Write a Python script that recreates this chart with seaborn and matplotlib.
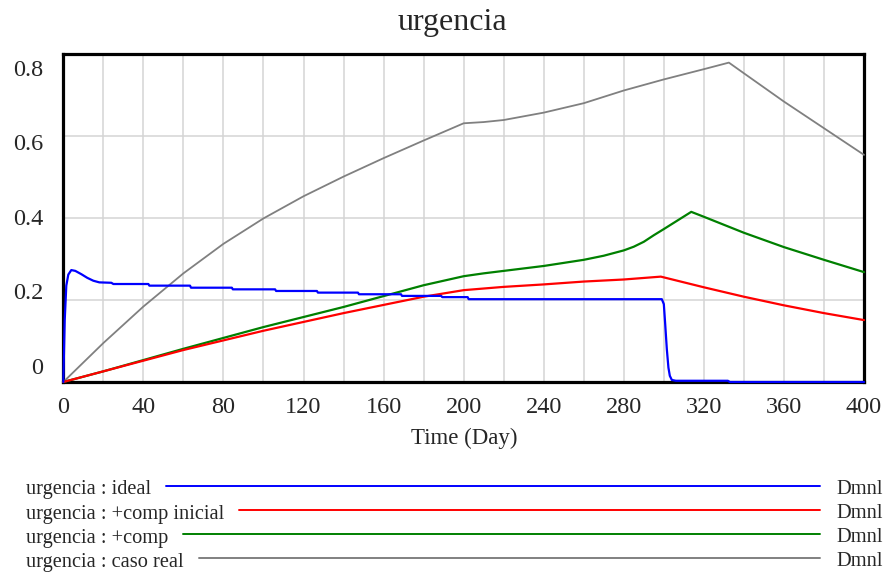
import matplotlib
matplotlib.use("Agg")
import matplotlib.pyplot as plt
import numpy as np
import pandas as pd
import seaborn as sns

# ---- data -------------------------------------------------------------
ideal_day = [0, 0.7, 1.5, 2.5, 4, 6, 9, 12, 15, 18, 24, 25, 42.5, 43, 63.3, 63.8,
             84.2, 84.7, 105.8, 106.3, 126.7, 127.2, 147.2, 147.7, 168.7, 169.2,
             188.8, 189.3, 202, 202.5, 299, 300, 300.7, 301.5, 302.3, 303, 304,
             306, 332, 333, 400]
ideal_val = [0, 0.15, 0.235, 0.262, 0.273, 0.271, 0.263, 0.254, 0.247, 0.243,
             0.242, 0.239, 0.239, 0.235, 0.235, 0.230, 0.230, 0.226, 0.226, 0.222,
             0.222, 0.218, 0.218, 0.214, 0.214, 0.210, 0.210, 0.207, 0.207, 0.202,
             0.202, 0.19, 0.14, 0.08, 0.035, 0.015, 0.005, 0.003, 0.003, 0.0, 0.0]

comp_ini_day = [0, 20, 60, 100, 140, 180, 190, 200, 220, 240, 260, 280, 298.5,
                320, 340, 360, 380, 400]
comp_ini_val = [0, 0.026, 0.078, 0.125, 0.168, 0.208, 0.216, 0.224, 0.232, 0.238,
                0.245, 0.250, 0.257, 0.231, 0.208, 0.187, 0.168, 0.151]

comp_day = [0, 20, 60, 100, 140, 180, 200, 210, 220, 240, 260, 270, 280, 285,
            290, 295, 300, 313.7, 320, 340, 360, 380, 400]
comp_val = [0, 0.026, 0.081, 0.134, 0.183, 0.236, 0.258, 0.265, 0.271, 0.283,
            0.298, 0.308, 0.321, 0.330, 0.342, 0.358, 0.373, 0.415, 0.403, 0.364,
            0.329, 0.298, 0.268]

real_day = [0, 20, 40, 60, 80, 100, 120, 140, 160, 180, 200, 210, 220, 240, 260,
            280, 300, 320, 332.5, 340, 360, 380, 400]
real_val = [0, 0.095, 0.184, 0.265, 0.337, 0.399, 0.453, 0.501, 0.546, 0.589,
            0.631, 0.634, 0.639, 0.657, 0.680, 0.711, 0.738, 0.763, 0.779, 0.753,
            0.684, 0.619, 0.554]

series_names = ["urgencia : ideal", "urgencia : +comp inicial",
                "urgencia : +comp", "urgencia : caso real"]
series_colors = ["#0000ff", "#ff0000", "#008000", "#808080"]
unit_label = "Dmnl"

x_ticks = [0, 40, 80, 120, 160, 200, 240, 280, 320, 360, 400]
y_ticks = [0, 0.2, 0.4, 0.6, 0.8]
y_tick_labels = ["0", "0.2", "0.4", "0.6", "0.8"]

# ---- figure -----------------------------------------------------------
sns.set_theme(style="white")
plt.rcParams["font.family"] = ["Liberation Serif", "DejaVu Serif"]

W, H = 889, 575
fig = plt.figure(figsize=(W / 100, H / 100), dpi=100)
ax_l, ax_r, ax_t, ax_b = 63.3, 864.0, 54.0, 382.0
ax = fig.add_axes([ax_l / W, 1 - ax_b / H, (ax_r - ax_l) / W, (ax_b - ax_t) / H])

frames = [
    pd.DataFrame({"day": ideal_day, "value": ideal_val, "series": series_names[0]}),
    pd.DataFrame({"day": comp_ini_day, "value": comp_ini_val, "series": series_names[1]}),
    pd.DataFrame({"day": comp_day, "value": comp_val, "series": series_names[2]}),
    pd.DataFrame({"day": real_day, "value": real_val, "series": series_names[3]}),
]

# draw back to front: caso real, +comp, +comp inicial, ideal
widths = [1.6, 1.6, 1.6, 1.3]
for idx in [3, 2, 1, 0]:
    sns.lineplot(data=frames[idx], x="day", y="value", color=series_colors[idx],
                 linewidth=widths[idx], sort=False, estimator=None, ax=ax,
                 legend=False, zorder=4 + (3 - idx))
for ln in ax.lines:
    ln.set_clip_on(False)

ax.set_xlim(0, 400)
ax.set_ylim(0, 0.8)
ax.set_xticks(np.arange(0, 401, 20))
ax.set_yticks(y_ticks)
ax.grid(True, color="#d4d4d4", linewidth=1.1)
ax.set_axisbelow(True)
ax.tick_params(length=0, labelbottom=False, labelleft=False)
ax.set_xlabel("")
ax.set_ylabel("")
for sp in ax.spines.values():
    sp.set_visible(True)
    sp.set_color("black")
    sp.set_linewidth(2.3)
    sp.set_zorder(3)

# x tick labels
for xv in x_ticks:
    px = ax_l + (ax_r - ax_l) * xv / 400
    fig.text(px / W, 1 - 413 / H, str(xv), ha="center", va="baseline", fontsize=17.5)

# y tick labels (spread between the frame edges, as in the original tool)
top_c, bot_c = 70.0, 368.3
for v, lab in zip(y_ticks, y_tick_labels):
    py = bot_c - (bot_c - top_c) * v / 0.8
    fig.text(43 / W, 1 - py / H, lab, ha="right", va="center", fontsize=17.5)

fig.text(452.5 / W, 1 - 30 / H, "urgencia", ha="center", va="baseline", fontsize=23)
fig.text(464 / W, 1 - 444 / H, "Time (Day)", ha="center", va="baseline", fontsize=16.5)

# legend rows
fig.canvas.draw()
renderer = fig.canvas.get_renderer()
baselines = [494, 518.5, 542.5, 566.5]
for name, col, by in zip(series_names, series_colors, baselines):
    t = fig.text(26 / W, 1 - by / H, name, ha="left", va="baseline", fontsize=14.7)
    bb = t.get_window_extent(renderer=renderer)
    x0 = bb.x1 + 15
    ly = 1 - (by - 8.5) / H
    fig.add_artist(plt.Line2D([x0 / W, 820 / W], [ly, ly], color=col,
                              linewidth=1.4, transform=fig.transFigure))
    fig.text(836 / W, 1 - by / H, unit_label, ha="left", va="baseline", fontsize=14.7)

fig.savefig("out.png", dpi=100, facecolor="white")
